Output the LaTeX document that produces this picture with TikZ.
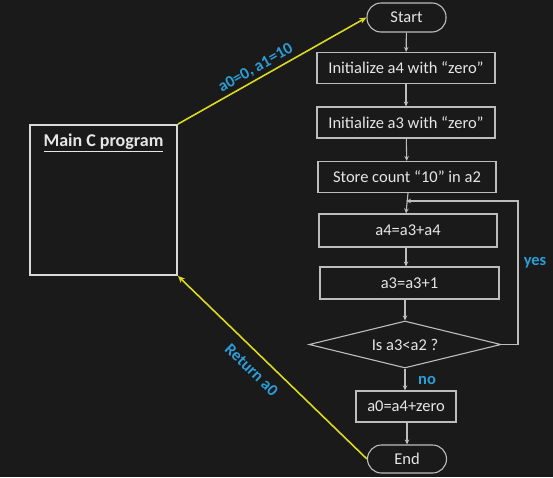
\documentclass[tikz,border=0pt]{standalone}
\usepackage{fontspec}
\setmainfont{Carlito}
\usetikzlibrary{shapes.geometric,arrows.meta}
\definecolor{bg}{HTML}{1A1A1A}
\definecolor{boxline}{HTML}{BDBDBD}
\definecolor{txt}{HTML}{E6E6E6}
\definecolor{lblue}{HTML}{2A9ED8}
\definecolor{yel}{HTML}{DADA20}
\begin{document}
\begin{tikzpicture}[x=1pt,y=-1pt,
  stepbox/.style={draw=boxline,line width=1.1pt,minimum height=31pt,text=txt,font=\fontsize{16.5}{18}\selectfont,inner sep=0pt},
  term/.style={draw=boxline,line width=1.1pt,rounded corners=14pt,minimum width=79pt,minimum height=29pt,text=txt,font=\fontsize{16.5}{18}\selectfont,inner sep=0pt},
  dec/.style={draw=boxline,line width=1.1pt,diamond,aspect=4.1,minimum width=192pt,minimum height=47pt,text=txt,font=\fontsize{16.5}{18}\selectfont,inner sep=0pt},
  flow/.style={draw=boxline,line width=1.1pt,-{Stealth[length=5pt,width=4.5pt]}},
  yarrow/.style={draw=yel,line width=1.6pt,-{Stealth[length=7pt,width=6pt]}},
  lbl/.style={text=lblue,font=\bfseries\fontsize{16.5}{18}\selectfont,inner sep=1pt}
]
\useasboundingbox[fill=bg] (0,0) rectangle (553,477);
\node[draw=white!85!black,line width=1.8pt,minimum width=147pt,minimum height=150pt,inner sep=0pt] (main) at (103.5,200) {};
\node[text=txt,font=\bfseries\fontsize{18}{20}\selectfont] (title) at (103.5,143) {\underline{Main C program}};
\node[term] (start) at (406.5,17.5) {Start};
\node[stepbox,minimum width=178pt] (b1) at (406,68) {Initialize a4 with “zero”};
\node[stepbox,minimum width=178pt] (b2) at (406,122.5) {Initialize a3 with “zero”};
\node[stepbox,minimum width=178pt] (b3) at (407,177) {Store count “10” in a2};
\node[stepbox,minimum width=178pt,minimum height=33pt] (b4) at (408,230.5) {a4=a3+a4};
\node[stepbox,minimum width=179pt,minimum height=32pt] (b5) at (409.5,283) {a3=a3+1};
\node[dec] (d) at (405,344.5) {Is a3<a2 ?};
\node[stepbox,minimum width=100pt] (b6) at (406,406.5) {a0=a4+zero};
\node[term,minimum height=28pt] (end) at (407,459) {End};
\coordinate (loopr) at (518,201);
\coordinate (join) at (406,201);
\draw[flow] (start) -- (b1);
\draw[flow] (b1) -- (b2);
\draw[flow] (b2) -- (b3);
\draw[flow] (b3.south -| b4.north) -- (b4.north -| 406,0);
\draw[flow] (b4.south -| 406,0) -- (b5.north -| 406,0);
\draw[flow] (b5.south -| 405,0) -- (d.north);
\draw[flow] (d.south) -- (b6.north -| 405,0);
\draw[flow] (b6.south -| 407,0) -- (end.north);
\draw[flow] (d.east) -| (loopr) -- (join);
\node[lbl] (yes) at (535,263) {yes};
\node[lbl] (no) at (427,380) {no};
\draw[yarrow] (main.north east) -- (start.west) node[pos=0.44,sloped,above=2pt,lbl] (l1) {a0=0, a1=10};
\draw[yarrow] (end.west) -- (main.south east) node[pos=0.55,sloped,below=9pt,lbl] (l2) {Return a0};
\end{tikzpicture}
\end{document}
